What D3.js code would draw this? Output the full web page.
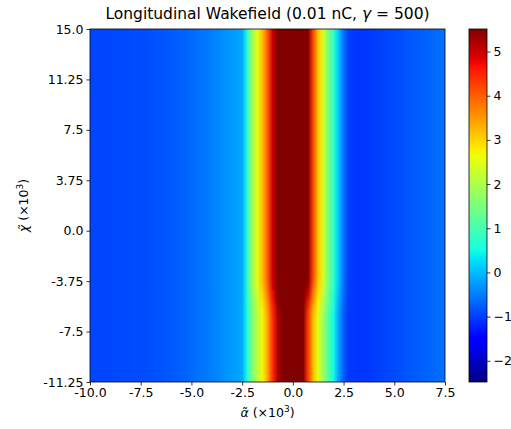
<!DOCTYPE html>
<html>
<head>
<meta charset="utf-8">
<script src="https://cdn.jsdelivr.net/npm/d3@7"></script>
<style>
body { margin: 0; background: #fff; }
text { font-family: "DejaVu Sans", sans-serif; fill: #000; }
</style>
</head>
<body>
<svg width="511" height="429"></svg>
<script>
// alpha grid (x10^3), column centres
var alpha = [-10, -9.75, -9.5, -9.25, -9, -8.75, -8.5, -8.25, -8, -7.75, -7.5, -7.25, -7, -6.75, -6.5, -6.25,
  -6, -5.75, -5.5, -5.25, -5, -4.75, -4.5, -4.25, -4, -3.75, -3.5, -3.25, -3, -2.75, -2.5, -2.25,
  -2, -1.75, -1.5, -1.25, -1, -0.75, -0.5, -0.25, 0, 0.25, 0.5, 0.75, 1, 1.25, 1.5, 1.75,
  2, 2.25, 2.5, 2.75, 3, 3.25, 3.5, 3.75, 4, 4.25, 4.5, 4.75, 5, 5.25, 5.5, 5.75,
  6, 6.25, 6.5, 6.75, 7, 7.25, 7.5];

// wake profile for the upper part of the window
var wakeTop = [-0.95, -0.95, -0.95, -0.95, -0.94, -0.93, -0.92, -0.91, -0.90, -0.89, -0.88, -0.87, -0.86, -0.85, -0.83, -0.81,
  -0.79, -0.76, -0.73, -0.70, -0.66, -0.62, -0.58, -0.54, -0.49, -0.44, -0.38, -0.32, -0.27, -0.22, -0.15, 0.7,
  1.85, 2.55, 3.2, 4.0, 5.0, 5.8, 6.3, 6.6, 6.7, 6.6, 6.2, 5.5, 4.2, 3.1, 2.4, 1.45,
  0.8, 0.1, -0.6, -1.0, -1.05, -1.07, -1.07, -1.05, -1.02, -0.99, -0.96, -0.93, -0.90, -0.87, -0.84, -0.81,
  -0.78, -0.75, -0.72, -0.69, -0.66, -0.63, -0.6];

var wakeMid = [-0.95, -0.95, -0.95, -0.95, -0.94, -0.93, -0.92, -0.91, -0.90, -0.89, -0.88, -0.87, -0.86, -0.85, -0.83, -0.81,
  -0.79, -0.76, -0.73, -0.70, -0.66, -0.62, -0.58, -0.54, -0.49, -0.44, -0.38, -0.32, -0.27, -0.22, -0.15, 0.65,
  1.7, 2.3, 2.95, 3.7, 4.7, 5.5, 6.05, 6.35, 6.45, 6.3, 5.85, 4.9, 3.7, 2.8, 2.1, 1.3,
  0.65, -0.05, -0.68, -1.02, -1.05, -1.07, -1.07, -1.05, -1.02, -0.99, -0.96, -0.93, -0.90, -0.87, -0.84, -0.81,
  -0.78, -0.75, -0.72, -0.69, -0.66, -0.63, -0.6];

var wakeBottom = [-0.95, -0.95, -0.95, -0.95, -0.94, -0.93, -0.92, -0.91, -0.90, -0.89, -0.88, -0.87, -0.86, -0.85, -0.83, -0.81,
  -0.79, -0.76, -0.73, -0.70, -0.66, -0.62, -0.58, -0.54, -0.49, -0.44, -0.38, -0.32, -0.27, -0.22, -0.15, 0.6,
  1.55, 2.1, 2.7, 3.4, 4.4, 5.2, 5.8, 6.1, 6.2, 6.0, 5.5, 4.3, 3.2, 2.5, 1.8, 1.1,
  0.5, -0.2, -0.75, -1.05, -1.05, -1.07, -1.07, -1.05, -1.02, -0.99, -0.96, -0.93, -0.90, -0.87, -0.84, -0.81,
  -0.78, -0.75, -0.72, -0.69, -0.66, -0.63, -0.6];

// chi bands (x10^3), top edge -> bottom edge, one profile each
var chiEdges = [15, -4.4, -5.6, -11.25];
var bandWake = [wakeTop, wakeMid, wakeBottom];

var xTicks = [-10, -7.5, -5, -2.5, 0, 2.5, 5, 7.5];
var xTickLabels = ["-10.0", "-7.5", "-5.0", "-2.5", "0.0", "2.5", "5.0", "7.5"];
var yTicks = [15, 11.25, 7.5, 3.75, 0, -3.75, -7.5, -11.25];
var yTickLabels = ["15.0", "11.25", "7.5", "3.75", "0.0", "-3.75", "-7.5", "-11.25"];
var cbTicks = [-2, -1, 0, 1, 2, 3, 4, 5];
var cbDomain = [-2.48, 5.51];

var svg = d3.select("svg");
var pLeft = 90, pRight = 445, pTop = 29, pBottom = 382;

var x = d3.scaleLinear().domain([-10, 7.5]).range([pLeft, pRight]);
var y = d3.scaleLinear().domain([-11.25, 15]).range([pBottom, pTop]);

// matplotlib jet
var jr = d3.scaleLinear().domain([0, 0.35, 0.66, 0.89, 1]).range([0, 0, 1, 1, 0.5]).clamp(true);
var jg = d3.scaleLinear().domain([0, 0.125, 0.375, 0.64, 0.91, 1]).range([0, 0, 1, 1, 0, 0]).clamp(true);
var jb = d3.scaleLinear().domain([0, 0.11, 0.34, 0.65, 1]).range([0.5, 1, 1, 0, 0]).clamp(true);
function jet(t) {
  return d3.rgb(jr(t) * 255, jg(t) * 255, jb(t) * 255).formatHex();
}
var norm = d3.scaleLinear().domain(cbDomain).range([0, 1]).clamp(true);
var color = function(v) { return jet(norm(v)); };

var defs = svg.append("defs");
var x1 = x(alpha[0]), x2 = x(alpha[alpha.length - 1]);

bandWake.forEach(function(w, i) {
  var grad = defs.append("linearGradient")
    .attr("id", "band" + i)
    .attr("gradientUnits", "userSpaceOnUse")
    .attr("x1", x1).attr("x2", x2).attr("y1", 0).attr("y2", 0);
  grad.selectAll("stop").data(w).enter().append("stop")
    .attr("offset", function(d, j) { return (x(alpha[j]) - x1) / (x2 - x1); })
    .attr("stop-color", function(d) { return color(d); });
});

// soften the joins between chi bands (vertical only)
var vblur = defs.append("filter").attr("id", "vblur")
  .attr("x", 0).attr("y", 0).attr("width", 1).attr("height", 1);
vblur.append("feGaussianBlur").attr("stdDeviation", "0 7");

defs.append("clipPath").attr("id", "plotclip")
  .append("rect")
    .attr("x", pLeft).attr("y", pTop)
    .attr("width", pRight - pLeft).attr("height", pBottom - pTop);

// outer bands run past the frame so the blur fade is clipped away
var pad = 30;
var last = bandWake.length - 1;
svg.append("g").attr("clip-path", "url(#plotclip)")
  .append("g").attr("filter", "url(#vblur)")
  .selectAll("rect")
  .data(bandWake)
  .enter().append("rect")
    .attr("x", pLeft)
    .attr("width", pRight - pLeft)
    .attr("y", function(d, i) { return y(chiEdges[i]) - (i === 0 ? pad : 0); })
    .attr("height", function(d, i) {
      return y(chiEdges[i + 1]) - y(chiEdges[i]) + 0.5 + (i === 0 ? pad : 0) + (i === last ? pad : 0);
    })
    .attr("fill", function(d, i) { return "url(#band" + i + ")"; });

svg.append("rect")
  .attr("x", pLeft).attr("y", pTop)
  .attr("width", pRight - pLeft).attr("height", pBottom - pTop)
  .attr("fill", "none").attr("stroke", "#000").attr("stroke-width", 0.8);

// axes
var xAxis = d3.axisBottom(x).tickValues(xTicks).tickSize(3.5).tickPadding(3)
  .tickFormat(function(d, i) { return xTickLabels[i]; });
var gx = svg.append("g").attr("transform", "translate(0," + pBottom + ")").call(xAxis);
gx.select(".domain").remove();

var yAxis = d3.axisLeft(y).tickValues(yTicks).tickSize(3.5).tickPadding(3)
  .tickFormat(function(d, i) { return yTickLabels[i]; });
var gy = svg.append("g").attr("transform", "translate(" + pLeft + ",0)").call(yAxis);
gy.select(".domain").remove();

// colorbar
var cbLeft = 469, cbRight = 487;
var cy = d3.scaleLinear().domain(cbDomain).range([pBottom, pTop]);
var cgrad = defs.append("linearGradient")
  .attr("id", "cbgrad").attr("x1", 0).attr("x2", 0).attr("y1", 1).attr("y2", 0);
cgrad.selectAll("stop").data(d3.range(0, 1.0001, 1 / 64)).enter().append("stop")
  .attr("offset", function(d) { return d; })
  .attr("stop-color", function(d) { return jet(d); });
svg.append("rect")
  .attr("x", cbLeft).attr("y", pTop)
  .attr("width", cbRight - cbLeft).attr("height", pBottom - pTop)
  .attr("fill", "url(#cbgrad)")
  .attr("stroke", "#000").attr("stroke-width", 0.8);

var cbAxis = d3.axisRight(cy).tickValues(cbTicks).tickSize(3.5).tickPadding(3)
  .tickFormat(function(d) { return d < 0 ? "\u2212" + Math.abs(d) : String(d); });
var gc = svg.append("g").attr("transform", "translate(" + cbRight + ",0)").call(cbAxis);
gc.select(".domain").remove();

svg.selectAll(".tick text").style("font-size", "12.5px").style("font-family", "DejaVu Sans");
svg.selectAll(".tick line").attr("stroke", "#000").attr("stroke-width", 0.8);

// title and labels
var title = svg.append("text")
  .attr("x", (pLeft + pRight) / 2).attr("y", 19)
  .attr("text-anchor", "middle")
  .style("font-size", "15.5px");
title.append("tspan").text("Longitudinal Wakefield (0.01 nC, ");
title.append("tspan").style("font-style", "italic").text("\u03b3");
title.append("tspan").text(" = 500)");

var xl = svg.append("text")
  .attr("x", (pLeft + pRight) / 2).attr("y", 417)
  .attr("text-anchor", "middle")
  .style("font-size", "12.5px");
xl.append("tspan").style("font-style", "italic").text("\u03b1\u0303");
xl.append("tspan").text("  (\u00d710");
xl.append("tspan").attr("dy", -5).style("font-size", "9px").text("3");
xl.append("tspan").attr("dy", 5).text(")");

var yl = svg.append("text")
  .attr("transform", "translate(28," + (pTop + pBottom) / 2 + ") rotate(-90)")
  .attr("text-anchor", "middle")
  .style("font-size", "12.5px");
yl.append("tspan").style("font-style", "italic").text("\u03c7\u0303");
yl.append("tspan").text("  (\u00d710");
yl.append("tspan").attr("dy", -5).style("font-size", "9px").text("3");
yl.append("tspan").attr("dy", 5).text(")");
</script>
</body>
</html>
